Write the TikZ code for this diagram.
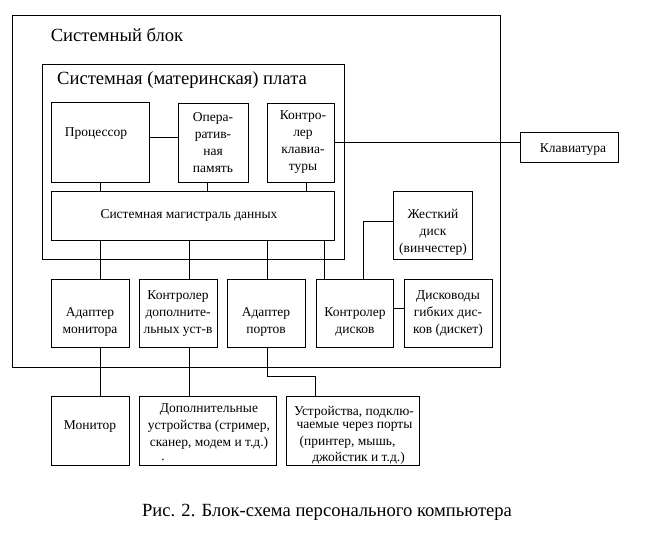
\documentclass[tikz,border=0pt]{standalone}
\usepackage{fontspec}
\setmainfont{Liberation Serif}
\begin{document}
\begin{tikzpicture}[x=1pt,y=-1pt,
  box/.style={draw,line width=0.8pt,inner sep=0pt,minimum width=#1},
  box/.default=78pt,
  txt/.style={inner sep=0pt,align=center,font=\fontsize{13.5}{17}\selectfont},
  big/.style={inner sep=0pt,font=\fontsize{18.6}{22}\selectfont},
  wire/.style={line width=0.8pt}]
\useasboundingbox[fill=white] (0,0) rectangle (654,534);
% containers
\node[box=488pt,minimum height=352pt] (outer) at (256,191) {};
\node[box=302pt,minimum height=195pt] (board) at (193,161.5) {};
\node[big] (tblock) at (117,35) {Системный блок};
\node[big] (tboard) at (182,80) {Системная (материнская) плата};
% boxes
\node[box=98pt,minimum height=80pt] (proc) at (100,142) {};
\node[box=70pt,minimum height=79pt] (ram) at (213,142.5) {};
\node[box=67pt,minimum height=79pt] (kc) at (300.5,142.5) {};
\node[box=283pt,minimum height=49pt] (bus) at (192.5,215.5) {};
\node[box=98pt,minimum height=30pt] (kbd) at (569,147) {};
\node[box=79pt,minimum height=68pt] (hd) at (432.5,225) {};
\node[box=78pt,minimum height=68pt] (monad) at (90,313) {};
\node[box=78pt,minimum height=68pt] (devctl) at (178,313) {};
\node[box=78pt,minimum height=68pt] (portad) at (266,313) {};
\node[box=77pt,minimum height=68pt] (diskctl) at (354.5,313) {};
\node[box=88pt,minimum height=68pt] (fdd) at (448,313) {};
\node[box=78pt,minimum height=69pt] (mon) at (90,430.5) {};
\node[box=137pt,minimum height=69pt] (dev) at (207.5,430.5) {};
\node[box=133pt,minimum height=69pt] (portdev) at (352.5,430.5) {};
% texts
\node[txt] (tproc) at (96,134) {Процессор};
\node[txt] (tram) at (213,142.5) {Опера-\\ратив-\\ная\\память};
\node[txt] (tkc) at (303,142.5) {Контро-\\лер\\клавиа-\\туры};
\node[txt] (tbus) at (189,215) {Системная магистраль данных};
\node[txt] (tkbd) at (573,150) {Клавиатура};
\node[txt] (thd) at (433,232.5) {Жесткий\\диск\\(винчестер)};
\node[txt] (tmonad) at (90,322) {Адаптер\\монитора};
\node[txt] (tdevctl) at (178,314) {Контролер\\дополните-\\льных уст-в};
\node[txt] (tportad) at (266,322) {Адаптер\\портов};
\node[txt] (tdiskctl) at (355,322) {Контролер\\дисков};
\node[txt] (tfdd) at (448,314) {Дисководы\\гибких дис-\\ков (дискет)};
\node[txt] (tmon) at (90,427) {Монитор};
\node[txt] (tdev) at (209,427) {Дополнительные\\устройства (стример,\\сканер, модем и т.д.)};
\node[txt] (tdot) at (163,460) {.};
\node[txt] (tpd1) at (354,412) {Устройства, подклю-};
\node[txt] (tpd2) at (354.5,427) {чаемые через порты};
\node[txt] (tpd3) at (347.5,442) {(принтер, мышь,};
\node[txt] (tpd4) at (358.5,458) {джойстик и т.д.)};
\node[inner sep=0pt,font=\fontsize{18.6}{22}\selectfont] (caption) at (327,512) {Рис. 2. Блок-схема персонального компьютера};
% wires
\draw[wire] ([yshift=5pt]proc.east) -- ([yshift=5pt]proc.east -| ram.west);
\draw[wire] ([xshift=0.7pt]proc.south) -- ([xshift=0.7pt]proc.south |- bus.north);
\draw[wire] ([xshift=-6pt]ram.south) -- ([xshift=-6pt]ram.south |- bus.north);
\draw[wire] ([xshift=5.5pt]kc.south) -- ([xshift=5.5pt]kc.south |- bus.north);
\draw[wire] (kc.east) -- (kc.east -| kbd.west);
\draw[wire] ([xshift=10pt]monad.north) -- ([xshift=10pt]monad.north |- bus.south);
\draw[wire] ([xshift=11pt]devctl.north) -- ([xshift=11pt]devctl.north |- bus.south);
\draw[wire] ([xshift=1pt]portad.north) -- ([xshift=1pt]portad.north |- bus.south);
\draw[wire] ([xshift=-30.5pt]diskctl.north) -- ([xshift=-30.5pt]diskctl.north |- bus.south);
\draw[wire] ([yshift=4pt]hd.west) -| ([xshift=8.5pt]diskctl.north);
\draw[wire] ([yshift=5pt]diskctl.east) -- ([yshift=5pt]diskctl.east -| fdd.west);
\draw[wire] ([xshift=10pt]monad.south) -- ([xshift=10pt]monad.south |- mon.north);
\draw[wire] ([xshift=11pt]devctl.south) -- ([xshift=11pt]devctl.south |- dev.north);
\draw[wire] ([xshift=1pt]portad.south) -- ++(0,29) -| ([xshift=-37.5pt]portdev.north);
\end{tikzpicture}
\end{document}
